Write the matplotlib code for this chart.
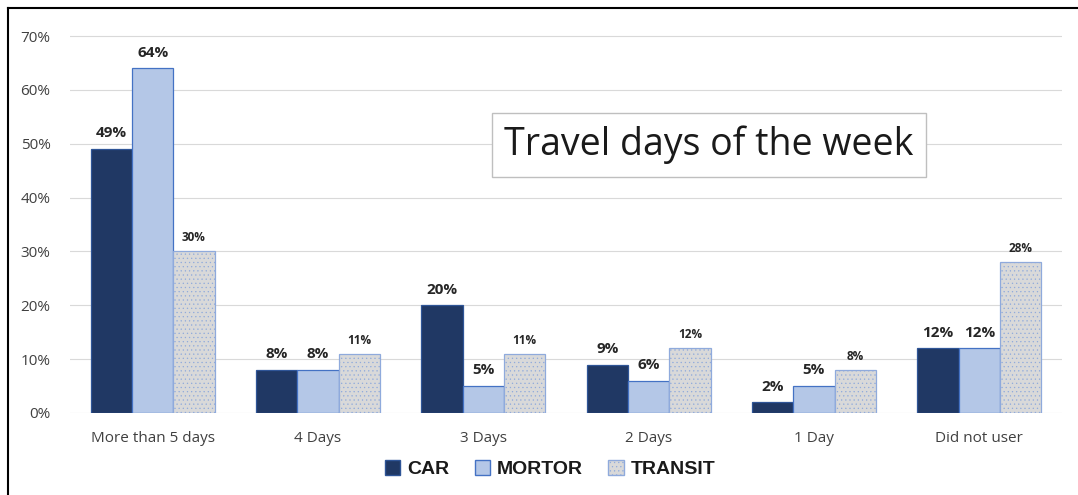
import matplotlib.pyplot as plt
import numpy as np
from matplotlib.lines import Line2D
from matplotlib.patches import Patch

categories = ['More than 5 days', '4 Days', '3 Days', '2 Days', '1 Day', 'Did not user']
car = [49, 8, 20, 9, 2, 12]
mortor = [64, 8, 5, 6, 5, 12]
transit = [30, 11, 11, 12, 8, 28]
series_names = ['CAR', 'MORTOR', 'TRANSIT']

plt.rcParams['font.family'] = ['Open Sans', 'DejaVu Sans']
plt.rcParams['hatch.color'] = '#C8C8C8'
plt.rcParams['hatch.linewidth'] = 0.4

fig = plt.figure(figsize=(10.78, 4.95), dpi=100)
ax = fig.add_axes([70 / 1078, 1 - 413 / 495, 992 / 1078, 377 / 495 * 75 / 70])

x = np.arange(len(categories))
w = 0.25
styles = [
    dict(color='#203864', edgecolor='#2F5597'),
    dict(color='#B4C7E7', edgecolor='#4472C4'),
    dict(color='#D9D9D9', edgecolor='#8FAADC', hatch='....'),
]

for i, (vals, st) in enumerate(zip([car, mortor, transit], styles)):
    bars = ax.bar(x + (i - 1) * w, vals, w, linewidth=0.9, zorder=3, **st)
    small = i == 2
    for b, v in zip(bars, vals):
        ax.text(b.get_x() + b.get_width() / 2, v + (1.3 if small else 1.6), f'{v}%', ha='center',
                va='bottom', fontsize=8.5 if small else 11, fontweight='bold', color='#262626')

ax.set_xlim(-0.5, len(categories) - 0.5)
ax.set_ylim(0, 75)
ax.set_yticks(range(0, 71, 10))
ax.set_yticklabels([f'{t}%' for t in range(0, 71, 10)], fontsize=11, color='#404040')
ax.set_xticks(x)
ax.set_xticklabels(categories, fontsize=11, color='#404040')
ax.tick_params(length=0, pad=14)
ax.tick_params(axis='x', pad=13)
ax.grid(axis='y', color='#D9D9D9', linewidth=0.8, zorder=0)
for s in ax.spines.values():
    s.set_visible(False)

ax.text(0.5 * (483 + 935) / 1078, 1 - 145 / 495, 'Travel days of the week', transform=fig.transFigure,
        ha='center', va='center', fontsize=27, color='#1A1A1A',
        bbox=dict(boxstyle='square,pad=0.33', facecolor='white', edgecolor='#BFBFBF', linewidth=1))

handles = [Patch(facecolor=st['color'], edgecolor=st['edgecolor'], hatch=st.get('hatch')) for st in styles]
leg = fig.legend(handles, series_names, loc='center', bbox_to_anchor=(550 / 1078, 1 - 469 / 495), ncol=3,
                 frameon=False, handlelength=0.8, handleheight=0.8, columnspacing=1.3, handletextpad=0.35,
                 prop=dict(family='Liberation Sans', weight='bold', size=14))
for t in leg.get_texts():
    t.set_color('#1A1A1A')

# screenshot frame
fig.add_artist(Line2D([8 / 1078, 8 / 1078], [0, 1 - 8 / 495], transform=fig.transFigure, color='black', linewidth=1.5))
fig.add_artist(Line2D([8 / 1078, 1], [1 - 8 / 495, 1 - 8 / 495], transform=fig.transFigure, color='black', linewidth=1.5))

fig.savefig('out.png', dpi=100)
